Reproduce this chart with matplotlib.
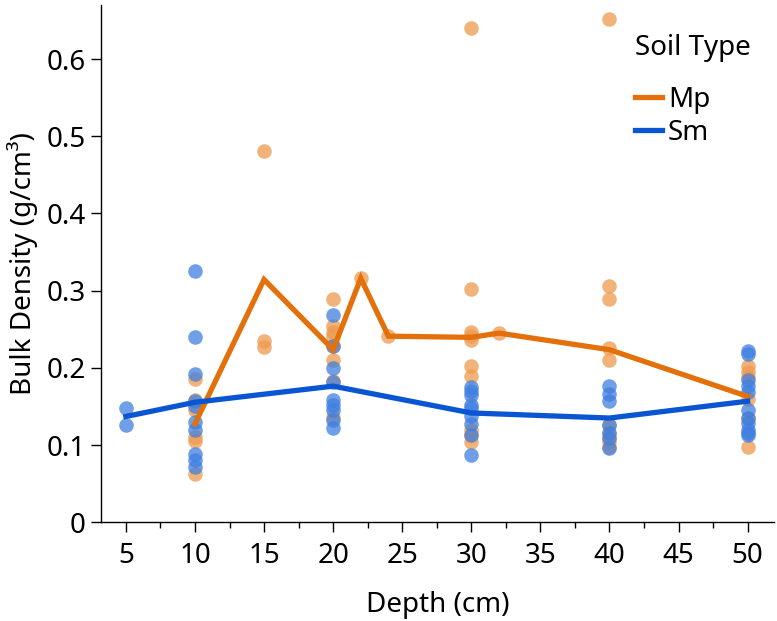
import matplotlib
matplotlib.use("Agg")
import matplotlib.pyplot as plt
import matplotlib.ticker as mtick
import numpy as np
import pandas as pd

plt.rcParams["font.family"] = ["Noto Sans", "DejaVu Sans"]

# bulk density samples by depth
mp_depth = [10] * 6 + [15] * 3 + [20] * 8 + [22, 24] + [30] * 10 + [32] + [40] * 10 + [50] * 6
mp_bd = [
    0.185, 0.158, 0.145, 0.11, 0.105, 0.062,
    0.481, 0.235, 0.227,
    0.289, 0.254, 0.247, 0.241, 0.228, 0.21, 0.183, 0.136,
    0.316, 0.241,
    0.64, 0.302, 0.247, 0.241, 0.236, 0.202, 0.19, 0.12, 0.113, 0.104,
    0.245,
    0.652, 0.306, 0.289, 0.226, 0.21, 0.126, 0.115, 0.109, 0.104, 0.098,
    0.202, 0.195, 0.188, 0.16, 0.135, 0.098,
]
sm_depth = [5] * 2 + [10] * 10 + [20] * 9 + [30] * 9 + [40] * 7 + [50] * 11
sm_bd = [
    0.148, 0.126,
    0.325, 0.24, 0.192, 0.157, 0.15, 0.13, 0.12, 0.088, 0.08, 0.072,
    0.268, 0.228, 0.2, 0.182, 0.158, 0.152, 0.145, 0.132, 0.122,
    0.175, 0.17, 0.165, 0.152, 0.148, 0.137, 0.127, 0.113, 0.087,
    0.176, 0.166, 0.157, 0.126, 0.115, 0.109, 0.096,
    0.222, 0.218, 0.184, 0.176, 0.169, 0.145, 0.135, 0.128, 0.12, 0.115, 0.113,
]

SOILS = ["Mp", "Sm"]
LINE_COLORS = {"Mp": "#E3700A", "Sm": "#0A55D2"}
POINT_COLORS = {"Mp": "#EE9A4E", "Sm": "#3F7FE0"}
FS = 20

df = pd.concat(
    [
        pd.DataFrame({"depth": mp_depth, "bd": mp_bd, "soil": "Mp"}),
        pd.DataFrame({"depth": sm_depth, "bd": sm_bd, "soil": "Sm"}),
    ]
)

fig = plt.figure(figsize=(7.77, 6.21), dpi=100)
ax = fig.add_axes([0.130, 0.159, 0.866, 0.833])

for soil in SOILS:
    d = df[df.soil == soil]
    ax.scatter(d.depth, d.bd, s=110, color=POINT_COLORS[soil], alpha=0.75,
               linewidths=0, zorder=2)

for soil in SOILS:
    means = df[df.soil == soil].groupby("depth")["bd"].mean()
    ax.plot(means.index, means.values, color=LINE_COLORS[soil], lw=3.8,
            label=soil, zorder=3, solid_joinstyle="miter")

ax.set_xlim(3.2, 51.9)
ax.set_ylim(0, 0.67)
ax.set_xticks(np.arange(5, 51, 5))
ax.xaxis.set_minor_locator(mtick.MultipleLocator(2.5))
ax.set_yticks(np.arange(0, 0.61, 0.1))
ax.yaxis.set_major_formatter(mtick.FuncFormatter(lambda v, p: "0" if v == 0 else f"{v:.1f}"))

for s in ["top", "right"]:
    ax.spines[s].set_visible(False)
for s in ["left", "bottom"]:
    ax.spines[s].set_linewidth(1.0)
ax.tick_params(axis="both", which="major", length=7, width=1, labelsize=FS)
ax.tick_params(axis="x", which="major", pad=7)
ax.tick_params(axis="y", which="major", pad=4)
ax.tick_params(axis="x", which="minor", length=4, width=1)

ax.set_xlabel("Depth (cm)", fontsize=FS, labelpad=15)
ax.set_ylabel("Bulk Density (g/cm³)", fontsize=FS, labelpad=6)

leg = ax.legend(title="Soil Type", loc="upper left", bbox_to_anchor=(0.756, 0.992),
                frameon=False, fontsize=FS, title_fontsize=FS, handlelength=1.0,
                handletextpad=0.2, labelspacing=0.18)
leg._legend_box.align = "left"
leg._legend_box.sep = 17

fig.savefig("out.png", dpi=100)
